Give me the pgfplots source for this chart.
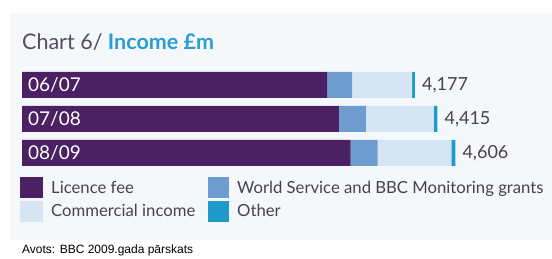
\documentclass[border=0pt]{standalone}
\usepackage{pgfplots}
\pgfplotsset{compat=1.18}
\usepackage{fontspec}
\setmainfont{Lato}
\newfontfamily\arial{Liberation Sans}
\definecolor{lic}{HTML}{4B2163}
\definecolor{ws}{HTML}{6E9CCF}
\definecolor{com}{HTML}{D5E5F4}
\definecolor{oth}{HTML}{1E9ACB}
\definecolor{panel}{HTML}{F4F8FB}
\definecolor{titlegrey}{HTML}{574A62}
\definecolor{ttl}{HTML}{2A9FCF}
\definecolor{txt}{HTML}{4A4050}
\begin{document}
\begin{tikzpicture}[x=1pt,y=1pt]
\useasboundingbox (0,0) rectangle (552,259);
\fill[panel] (10,19) rectangle (552,246);
\node[anchor=base west, inner sep=0, font=\fontsize{21.5}{25}\selectfont] at (22,209) {\textcolor{titlegrey}{Chart 6/} \textcolor{ttl}{\bfseries Income £m}};
\begin{axis}[at={(22pt,89pt)}, anchor=south west, scale only axis, width=470.4pt, height=102pt,
  xmin=0, xmax=5000, ymin=-0.5, ymax=2.5, y dir=reverse, xbar stacked, bar width=26pt,
  hide axis, clip=false]
\addplot[fill=lic, draw=none] coordinates {(3243,0) (3368,1) (3494,2)};
\addplot[fill=ws, draw=none] coordinates {(266,0) (287,1) (286,2)};
\addplot[fill=com, draw=none] coordinates {(638,0) (723,1) (785,2)};
\addplot[fill=oth, draw=none] coordinates {(30,0) (37,1) (41,2)};
\coordinate (b0) at (axis cs:0,0);
\coordinate (b1) at (axis cs:0,1);
\coordinate (b2) at (axis cs:0,2);
\coordinate (t0) at (axis cs:4177,0);
\coordinate (t1) at (axis cs:4415,1);
\coordinate (t2) at (axis cs:4606,2);
\end{axis}
\foreach \c/\l in {b0/06\slash 07, b1/07\slash 08, b2/08\slash 09}
  \node[anchor=west, inner sep=0, text=white, xshift=6pt, font=\fontsize{19}{22}\selectfont] at (\c) {\l};
\foreach \c/\l in {t0/{4,177}, t1/{4,415}, t2/{4,606}}
  \node[anchor=west, inner sep=0, text=txt, xshift=7pt, font=\fontsize{18}{21}\selectfont] at (\c) {\l};
\fill[lic] (20,61) rectangle (43,82);
\fill[com] (20,37) rectangle (43,58);
\fill[ws] (208,61) rectangle (229,82);
\fill[oth] (208,37) rectangle (229,58);
\node[anchor=base west, inner sep=0, text=txt, font=\fontsize{16.7}{20}\selectfont] at (51,65) {Licence fee};
\node[anchor=base west, inner sep=0, text=txt, font=\fontsize{16.7}{20}\selectfont] at (51,42) {Commercial income};
\node[anchor=base west, inner sep=0, text=txt, font=\fontsize{16.7}{20}\selectfont] at (237,65) {World Service and BBC Monitoring grants};
\node[anchor=base west, inner sep=0, text=txt, font=\fontsize{16.7}{20}\selectfont] at (237,42) {Other};
\node[anchor=base west, inner sep=0, font=\arial\fontsize{12}{14}\selectfont] at (22,5) {Avots: BBC 2009.gada pārskats};
\end{tikzpicture}
\end{document}
